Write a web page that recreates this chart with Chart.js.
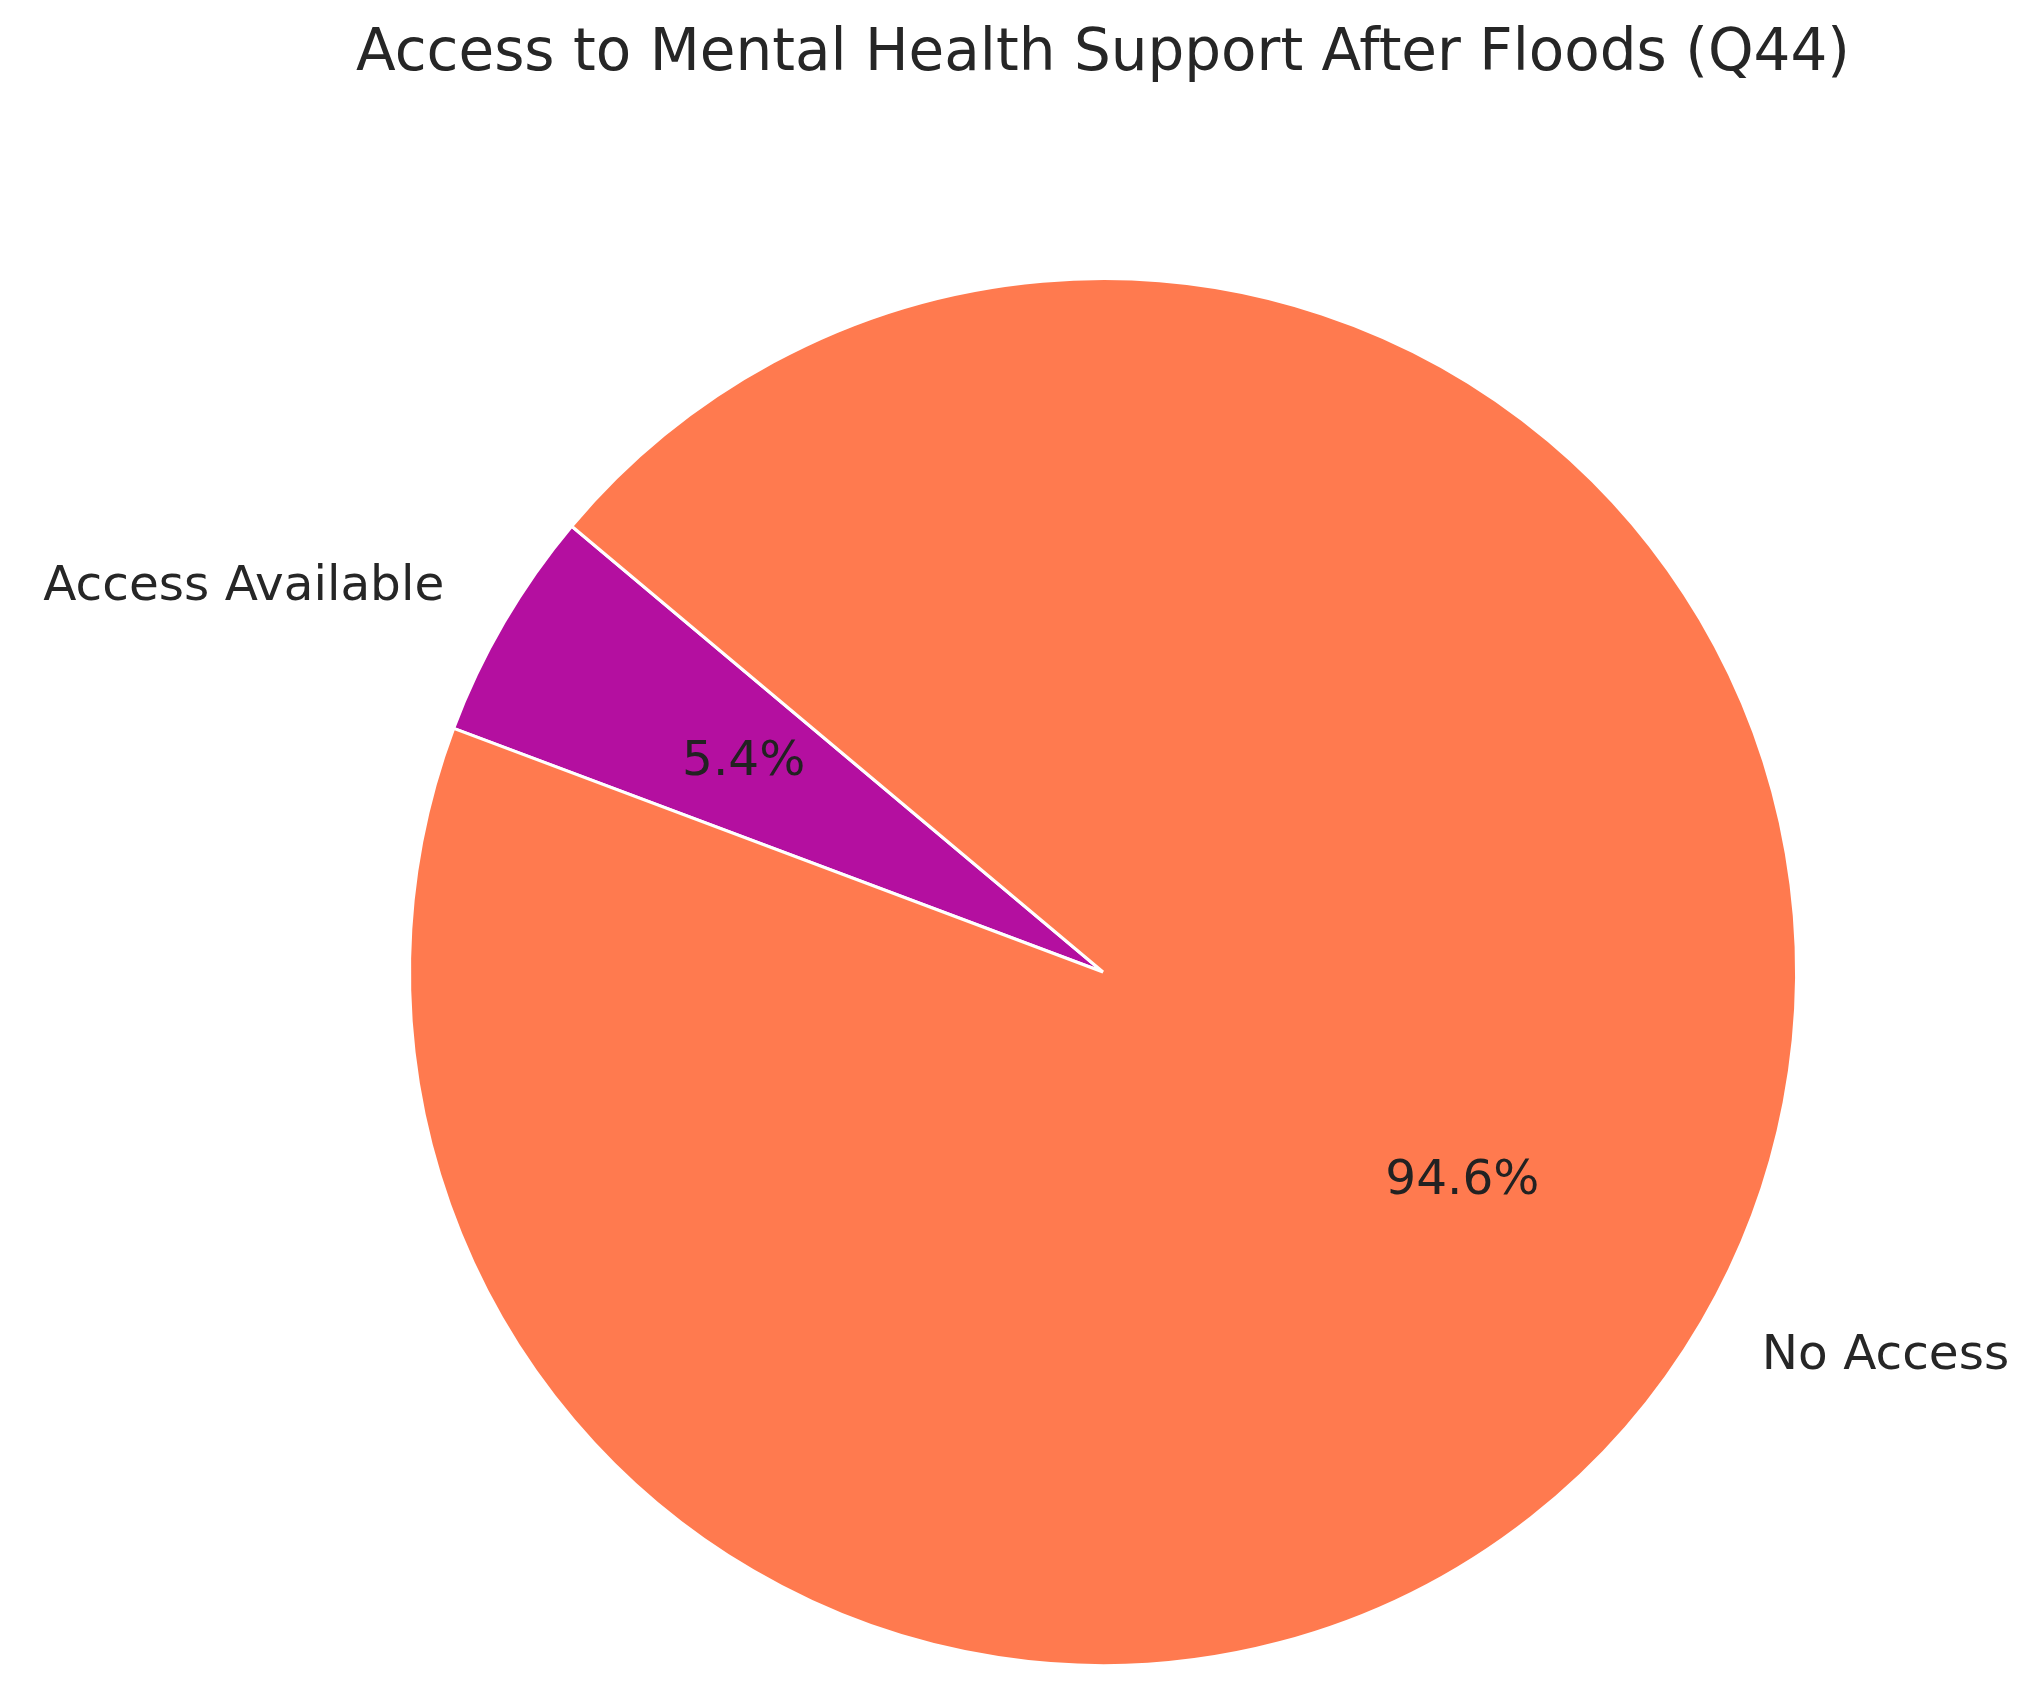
<!DOCTYPE html>
<html>
<head>
<meta charset="utf-8">
<script src="https://cdn.jsdelivr.net/npm/chart.js@4.4.1/dist/chart.umd.min.js"></script>
<style>
  html, body { margin: 0; padding: 0; background: #fff; }
  #wrap { width: 2033px; height: 1691px; }
</style>
</head>
<body>
<div id="wrap"><canvas id="chart-1"></canvas></div>
<script>
const chartTitle = 'Access to Mental Health Support After Floods (Q44)';
const categories = ['Access Available', 'No Access'];
const shares = [5.4, 94.6];
const sliceColors = ['#b40fa0', '#ff7a4f'];
const startAngle = 140; // degrees, counter-clockwise from 3 o'clock

const total = shares.reduce((a, b) => a + b, 0);
// chart.js draws clockwise from 12 o'clock, so shift so first slice starts at startAngle going CCW
const rotation = 90 - startAngle - shares[0] / total * 360;

// title drawn by hand: the built-in one gets squeezed to the padded width
const pieTitle = {
  id: 'pieTitle',
  afterDraw(chart) {
    const ctx = chart.ctx;
    const arc = chart.getDatasetMeta(0).data[0];
    ctx.save();
    ctx.font = '58px "DejaVu Sans"';
    ctx.fillStyle = '#262626';
    ctx.textAlign = 'center';
    ctx.textBaseline = 'middle';
    ctx.fillText(chartTitle, arc.x, 55);
    ctx.restore();
  }
};

const pieLabels = {
  id: 'pieLabels',
  afterDatasetsDraw(chart) {
    const ctx = chart.ctx;
    const arcs = chart.getDatasetMeta(0).data;
    ctx.save();
    ctx.textBaseline = 'middle';
    arcs.forEach((arc, i) => {
      const mid = (arc.startAngle + arc.endAngle) / 2;
      const r = arc.outerRadius;
      const cx = Math.cos(mid), cy = Math.sin(mid);
      // category label outside
      ctx.font = '48.5px "DejaVu Sans"';
      ctx.fillStyle = '#262626';
      ctx.textAlign = cx >= 0 ? 'left' : 'right';
      ctx.fillText(categories[i], arc.x + cx * r * 1.1, arc.y + cy * r * 1.1);
      // percentage inside
      ctx.textAlign = 'center';
      ctx.fillStyle = '#222';
      ctx.fillText(shares[i].toFixed(1) + '%', arc.x + cx * r * 0.6, arc.y + cy * r * 0.6);
    });
    ctx.restore();
  }
};

const ctx1 = document.getElementById('chart-1').getContext('2d');
const myChart = new Chart(ctx1, {
  type: 'pie',
  data: {
    labels: categories,
    datasets: [{
      data: shares,
      backgroundColor: sliceColors,
      borderColor: '#ffffff',
      borderWidth: 3
    }]
  },
  options: {
    responsive: true,
    maintainAspectRatio: false,
    animation: false,
    rotation: rotation,
    layout: {
      padding: { left: 408, right: 235, top: 277, bottom: 24 }
    },
    plugins: {
      legend: { display: false },
      tooltip: { enabled: false },
      title: { display: false }
    }
  },
  plugins: [pieLabels, pieTitle]
});
</script>
</body>
</html>
